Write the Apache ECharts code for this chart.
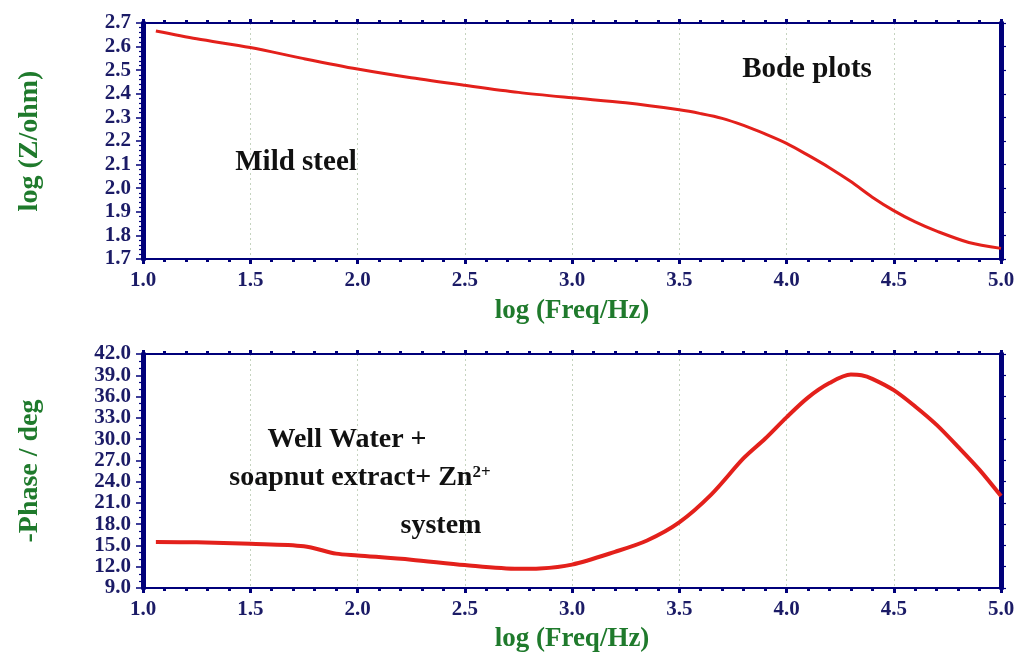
<!DOCTYPE html>
<html>
<head>
<meta charset="utf-8">
<script src="https://cdn.jsdelivr.net/npm/echarts@6/dist/echarts.min.js"></script>
<style>
html,body{margin:0;padding:0;background:#fff;}
#c{width:1019px;height:654px;}
</style>
</head>
<body>
<div id="c"></div>
<script>
// ---- data ----
var freqZ = [1.06, 1.25, 1.5, 1.75, 2.0, 2.25, 2.5, 2.75, 3.0, 3.25, 3.5, 3.6, 3.7, 3.8, 3.9, 4.0, 4.1, 4.2, 4.3, 4.4, 4.5, 4.6, 4.7, 4.85, 5.0];
var logZ  = [2.666, 2.633, 2.596, 2.549, 2.505, 2.468, 2.436, 2.406, 2.383, 2.362, 2.332, 2.316, 2.296, 2.266, 2.230, 2.190, 2.140, 2.087, 2.028, 1.962, 1.905, 1.857, 1.818, 1.770, 1.745];

var freqP = [1.06, 1.25, 1.5, 1.75, 1.9, 2.0, 2.25, 2.5, 2.75, 2.85, 3.0, 3.2, 3.35, 3.5, 3.65, 3.8, 3.9, 4.0, 4.1, 4.2, 4.3, 4.35, 4.4, 4.5, 4.6, 4.7, 4.8, 4.9, 5.0];
var phase = [15.5, 15.45, 15.24, 14.9, 13.85, 13.6, 13.0, 12.23, 11.7, 11.75, 12.3, 14.1, 15.7, 18.25, 22.2, 27.3, 30.05, 33.07, 35.85, 37.9, 39.1, 39.0, 38.5, 36.9, 34.6, 32.0, 28.9, 25.65, 21.96];

var xMin = 1.0, xMax = 5.0, xStep = 0.5;
var zMin = 1.7, zMax = 2.7, zStep = 0.1;
var pMin = 9.0, pMax = 42.0, pStep = 3.0;

var xTitle = 'log (Freq/Hz)';
var zTitle = 'log (Z/ohm)';
var pTitle = '-Phase / deg';

// ---- styling ----
var NAVY = '#00007a';
var LABEL = '#1b1b66';
var GREEN = '#1f7a2c';
var RED = '#e3201b';
var FONT = '"Liberation Serif", "Times New Roman", serif';

function pairs(xs, ys) { return xs.map(function (x, i) { return [x, ys[i]]; }); }

function bottomX(gi, nameGap) {
  return {
    type: 'value', gridIndex: gi, position: 'bottom',
    min: xMin, max: xMax, interval: xStep,
    name: xTitle, nameLocation: 'middle', nameGap: nameGap,
    nameTextStyle: { color: GREEN, fontFamily: FONT, fontWeight: 'bold', fontSize: 27 },
    axisLine: { show: true, onZero: false, lineStyle: { color: NAVY, width: 2 } },
    axisTick: { show: true, inside: false, length: 5, lineStyle: { color: NAVY, width: 3 } },
    minorTick: { show: true, splitNumber: 5, length: 3, lineStyle: { color: NAVY, width: 3 } },
    axisLabel: { show: true, margin: 11, color: LABEL, fontFamily: FONT, fontWeight: 'bold', fontSize: 21,
      formatter: function (v) { return v.toFixed(1); } },
    splitLine: { show: true, lineStyle: { color: '#c5d3bf', type: [2, 3], width: 1 } },
    minorSplitLine: { show: false }
  };
}
function topX(gi) {
  return {
    type: 'value', gridIndex: gi, position: 'top',
    min: xMin, max: xMax, interval: xStep,
    axisLine: { show: true, onZero: false, lineStyle: { color: NAVY, width: 2 } },
    axisTick: { show: true, length: 4, lineStyle: { color: NAVY, width: 3 } },
    minorTick: { show: true, splitNumber: 5, length: 3, lineStyle: { color: NAVY, width: 3 } },
    axisLabel: { show: false }, splitLine: { show: false }
  };
}
function leftY(gi, mn, mx, step, minorSplit, title, digits) {
  return {
    type: 'value', gridIndex: gi, position: 'left',
    min: mn, max: mx, interval: step,
    name: title, nameLocation: 'middle', nameRotate: 90, nameGap: 99,
    nameTextStyle: { color: GREEN, fontFamily: FONT, fontWeight: 'bold', fontSize: 28 },
    axisLine: { show: true, onZero: false, lineStyle: { color: NAVY, width: 5 } },
    axisTick: { show: true, length: 7, lineStyle: { color: NAVY, width: 1.5 } },
    minorTick: { show: true, splitNumber: minorSplit, length: 4, lineStyle: { color: NAVY, width: 1.2 } },
    axisLabel: { show: true, margin: 12, color: LABEL, fontFamily: FONT, fontWeight: 'bold', fontSize: 21,
      formatter: function (v) { return v.toFixed(digits); } },
    splitLine: { show: false }
  };
}
function rightY(gi, mn, mx, step, minorSplit) {
  return {
    type: 'value', gridIndex: gi, position: 'right',
    min: mn, max: mx, interval: step,
    axisLine: { show: true, onZero: false, lineStyle: { color: NAVY, width: 5 } },
    axisTick: { show: true, length: 5, lineStyle: { color: NAVY, width: 1.2 } },
    minorTick: { show: true, splitNumber: minorSplit, length: 3, lineStyle: { color: NAVY, width: 1 } },
    axisLabel: { show: false }, splitLine: { show: false }
  };
}

var txt = function (x, y, text, size) {
  return { type: 'text', z: 100, style: { text: text, x: x, y: y, fill: '#111', font: 'bold ' + size + 'px ' + FONT,
    textAlign: 'center', textVerticalAlign: 'middle' } };
};

var chart = echarts.init(document.getElementById('c'), null, { renderer: 'canvas' });
chart.setOption({
  backgroundColor: '#fff',
  animation: false,
  grid: [
    { left: 143, top: 23, width: 858, height: 236 },
    { left: 143, top: 354, width: 858, height: 238 }
  ],
  xAxis: [bottomX(0, 39), topX(0), bottomX(1, 38), topX(1)],
  yAxis: [
    leftY(0, zMin, zMax, zStep, 5, zTitle, 1), rightY(0, zMin, zMax, zStep, 5),
    leftY(1, pMin, pMax, pStep, 3, pTitle, 1), rightY(1, pMin, pMax, pStep, 3)
  ],
  series: [
    { type: 'line', xAxisIndex: 0, yAxisIndex: 0, data: pairs(freqZ, logZ), showSymbol: false, smooth: 0.3,
      lineStyle: { color: RED, width: 3 } },
    { type: 'line', xAxisIndex: 2, yAxisIndex: 2, data: pairs(freqP, phase), showSymbol: false, smooth: 0.3,
      lineStyle: { color: RED, width: 4 } }
  ],
  graphic: [
    txt(807, 70, 'Bode plots', 29),
    txt(296, 163, 'Mild steel', 29),
    txt(347, 440, 'Well Water +', 28),
    {
      type: 'text', z: 100,
      style: {
        text: 'soapnut extract+ Zn{sup|2+}', x: 360, y: 478, fill: '#111',
        font: 'bold 28px ' + FONT, textAlign: 'center', textVerticalAlign: 'middle',
        rich: { sup: { fontSize: 17, fontWeight: 'bold', fontFamily: FONT, fill: '#111', verticalAlign: 'top' } }
      }
    },
    txt(441, 526, 'system', 28)
  ]
});
</script>
</body>
</html>
